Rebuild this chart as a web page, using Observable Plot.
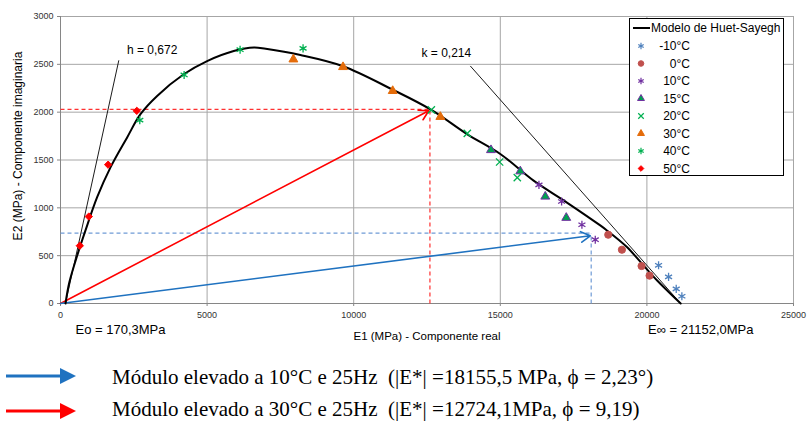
<!DOCTYPE html>
<html><head><meta charset="utf-8">
<script src="https://cdn.jsdelivr.net/npm/d3@7"></script>
<script src="https://cdn.jsdelivr.net/npm/@observablehq/plot@0.6"></script>
<style>
body{margin:0;background:#fff;font-family:"Liberation Sans",Arial,sans-serif;}
#wrap{position:relative;width:807px;height:421px;overflow:hidden;}
#legend{position:absolute;left:629px;top:18px;width:153px;height:156px;border:1px solid #000;background:#fff;}
#ylab{position:absolute;left:18px;top:146px;transform:translate(-50%,-50%) rotate(-90deg);font-size:12px;white-space:nowrap;color:#000;}
.note{position:absolute;left:112px;font-family:"Liberation Serif","Times New Roman",serif;font-size:21px;white-space:pre;color:#000;}
.arr{position:absolute;left:0;}
</style></head><body><div id="wrap"></div>
<script>
// ---- data ----
const temps = ["-10°C","0°C","10°C","15°C","20°C","30°C","40°C","50°C"];
const ptsM10 = [[20398,399],[20739,278],[21000,153],[21193,76]];
const pts0   = [[18682,719],[19148,562],[19818,392],[20091,291]];
const pts10  = [[16318,1240],[17091,1066],[17784,823],[18239,667]];
const pts15  = [[14682,1604],[15682,1382],[16534,1118],[17250,896]];
const pts20  = [[12648,2024],[13875,1778],[14977,1479],[15580,1316]];
const pts30  = [[7943,2552],[9636,2472],[11330,2222],[12955,1951]];
const pts40  = [[2704,1917],[4216,2389],[6125,2653],[8273,2667]];
const pts50  = [[659,604],[966,909],[1625,1451],[2602,2014]];
const modelE1 = [170,300,590,852,1250,1705,2273,2727,3296,4204,5000,5909,6600,7000,8182,9636,11330,12648,13864,15000,16136,17273,18409,18636,19318,19830,20341,21152];
const modelE2 = [0,220,521,764,1111,1423,1736,1979,2170,2396,2534,2639,2676,2662,2597,2480,2235,2024,1771,1563,1284,1055,816,764,590,417,243,0];
const hLine = [[170,0],[1989,2542]];
const kLine = [[13977,2483],[21152,0]];
const mod30 = [12600,2030]; const tip30 = [12560,2015];
const mod10 = [18100,735];  const tip10 = [18070,708];
const tangentLabels = [
  {text:"h = 0,672", x:3126, y:2646},
  {text:"k = 0,214", x:13159, y:2615}
];
const limitLabels = [
  {text:"Eo = 170,3MPa", x:511, y:-278},
  {text:"E\u221E = 21152,0MPa", x:20036, y:-278}
];
const xTicks = [0,5000,10000,15000,20000,25000];
const yTicks = [0,500,1000,1500,2000,2500,3000];
const xLabel = "E1 (MPa) - Componente real";
const yLabel = "E2 (MPa) - Componente imaginaria";
const notes = [
  "Módulo elevado a 10°C e 25Hz  (|E*| =18155,5 MPa, \u03D5 = 2,23°)",
  "Módulo elevado a 30°C e 25Hz  (|E*| =12724,1MPa, \u03D5 = 9,19)"
];

// ---- styles ----
const seriesPts = [ptsM10,pts0,pts10,pts15,pts20,pts30,pts40,pts50];
const styles = [
  {symbol:"asterisk", stroke:"#4f81bd", fill:"none", r:3.8},
  {symbol:"circle", stroke:"#c0504d", fill:"#c0504d", r:3.6},
  {symbol:"asterisk", stroke:"#7030a0", fill:"none", r:3.8},
  {symbol:"triangle", stroke:"#7030a0", fill:"#00a050", r:3.3},
  {symbol:"times", stroke:"#00b050", fill:"none", r:3.4},
  {symbol:"triangle", stroke:"#e46c0a", fill:"#e46c0a", r:3.3},
  {symbol:"asterisk", stroke:"#00b050", fill:"none", r:3.8},
  {symbol:"diamond2", stroke:"#ff0000", fill:"#ff0000", r:3.3}
];
const modelData = modelE1.map((x,i)=>({x, y:modelE2[i]}));
const dotMarks = seriesPts.map((pts,i)=>Plot.dot(pts.map(([x,y])=>({x,y})), {
  x:"x", y:"y", symbol:()=>styles[i].symbol, r: styles[i].r,
  stroke: styles[i].stroke, fill: styles[i].fill, strokeWidth: styles[i].fill==="none"?1.3:1
}));
const link = (a,b)=>[{x1:a[0],y1:a[1],x2:b[0],y2:b[1]}];
const L = {x1:"x1",y1:"y1",x2:"x2",y2:"y2"};

const chart = Plot.plot({
  width:807, height:350,
  marginLeft:60, marginRight:14, marginTop:16, marginBottom:47,
  style:{fontFamily:"Liberation Sans, Arial, sans-serif", fontSize:"9px", color:"#333", background:"#fff"},
  x:{domain:[0,25000]},
  y:{domain:[0,3000]},
  symbol:{type:"identity"},
  marks:[
    Plot.gridX(xTicks.slice(1,-1), {stroke:"#a6a6a6", strokeOpacity:1}),
    Plot.gridY(yTicks.slice(1), {stroke:"#a6a6a6", strokeOpacity:1}),
    Plot.frame({stroke:"#a6a6a6"}),
    Plot.ruleX([0], {stroke:"#868686"}),
    Plot.ruleY([0], {stroke:"#868686"}),
    Plot.axisX(xTicks, {tickFormat:d3.format("d"), tickSize:3, tickPadding:5, stroke:"#868686", fill:"#333", label:null, fontSize:9}),
    Plot.axisY(yTicks, {tickFormat:d3.format("d"), tickSize:3, tickPadding:4, stroke:"#868686", fill:"#333", label:null, fontSize:9}),
    Plot.text([xLabel], {frameAnchor:"bottom", lineAnchor:"middle", dy:33, fontSize:11.5, fill:"#000"}),
    // dashed guides
    Plot.link(link([0,mod30[1]],mod30), {...L, stroke:"#ff3030", strokeDasharray:"4,3", strokeWidth:1.2}),
    Plot.link(link([mod30[0],0],mod30), {...L, stroke:"#ff3030", strokeDasharray:"4,3", strokeWidth:1.2}),
    Plot.link(link([0,mod10[1]],mod10), {...L, stroke:"#6f9bd6", strokeDasharray:"4,3", strokeWidth:1.2}),
    Plot.link(link([mod10[0],0],mod10), {...L, stroke:"#6f9bd6", strokeDasharray:"4,3", strokeWidth:1.2}),
    // arrows
    Plot.arrow(link([0,0],tip30), {...L, stroke:"#ff0000", strokeWidth:1.6, headLength:10}),
    Plot.arrow(link([0,0],tip10), {...L, stroke:"#1f72c0", strokeWidth:1.6, headLength:10}),
    // tangent lines
    Plot.link(link(hLine[0],hLine[1]), {...L, stroke:"#000", strokeWidth:0.9}),
    Plot.link(link(kLine[0],kLine[1]), {...L, stroke:"#000", strokeWidth:0.9}),
    // model curve
    Plot.line(modelData, {x:"x", y:"y", curve:"catmull-rom", stroke:"#000", strokeWidth:2}),
    ...dotMarks,
    Plot.text(tangentLabels, {x:"x", y:"y", text:"text", textAnchor:"middle", fontSize:12, fill:"#000"}),
    Plot.text(limitLabels, {x:"x", y:"y", text:"text", textAnchor:"start", fontSize:13, fill:"#000"})
  ]
});
const wrap = document.getElementById("wrap");
wrap.appendChild(chart);

const yl = document.createElement("div"); yl.id = "ylab"; yl.textContent = yLabel; wrap.appendChild(yl);

// legend
const leg = document.createElement("div"); leg.id = "legend"; wrap.appendChild(leg);
const symMap = {asterisk:d3.symbolAsterisk, circle:d3.symbolCircle, triangle:d3.symbolTriangle, times:d3.symbolTimes, diamond2:d3.symbolDiamond2};
const ls = d3.select(leg).append("svg").attr("width",153).attr("height",156)
  .style("font-family","Liberation Sans, Arial, sans-serif").style("font-size","12px");
ls.append("line").attr("x1",3).attr("x2",20).attr("y1",9).attr("y2",9).attr("stroke","#000").attr("stroke-width",2);
ls.append("text").attr("x",21).attr("y",9).attr("dy","0.35em").text("Modelo de Huet-Sayegh");
temps.forEach((t,i)=>{
  const y = 27 + i*17.5, s = styles[i];
  ls.append("path").attr("transform",`translate(11,${y})`)
    .attr("d", d3.symbol(symMap[s.symbol], Math.PI*s.r*s.r*0.6)())
    .attr("fill", s.fill).attr("stroke", s.stroke).attr("stroke-width", s.fill==="none"?1.2:1);
  ls.append("text").attr("x",60).attr("y",y).attr("dy","0.35em").attr("text-anchor","end").text(t);
});

// notes under the chart
const noteColors = ["#1f72c0","#ff0000"];
const noteTops = [365, 397];
const arrowYs = [376, 411];
notes.forEach((txt,i)=>{
  const s = d3.select(wrap).append("svg").attr("class","arr").attr("width",90).attr("height",30)
    .style("top",(arrowYs[i]-15)+"px");
  s.append("line").attr("x1",6).attr("x2",62).attr("y1",15).attr("y2",15).attr("stroke",noteColors[i]).attr("stroke-width",2.8);
  s.append("path").attr("d","M60,7 L76,15 L60,23 Z").attr("fill",noteColors[i]);
  const sp = document.createElement("div"); sp.className="note"; sp.style.top = noteTops[i]+"px"; sp.textContent = txt; wrap.appendChild(sp);
});
</script></body></html>
